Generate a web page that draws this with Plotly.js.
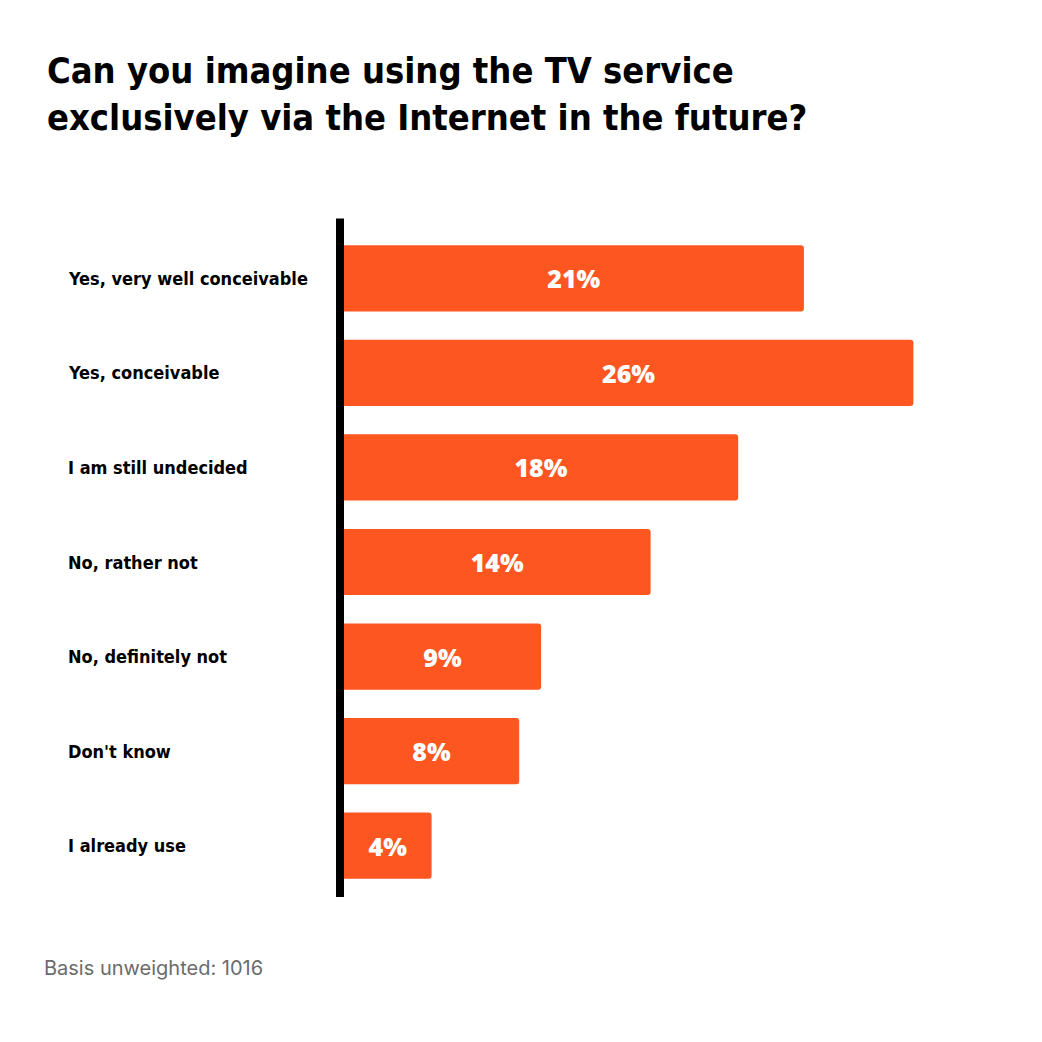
<!DOCTYPE html>
<html>
<head>
<meta charset="utf-8">
<script src="https://cdn.plot.ly/plotly-3.0.1.min.js"></script>
<style>html,body{margin:0;padding:0;background:#fff;}#chart{width:1042px;height:1042px;}</style>
</head>
<body>
<div id="chart"></div>
<script>
const categories = [
  "Yes, very well conceivable",
  "Yes, conceivable",
  "I am still undecided",
  "No, rather not",
  "No, definitely not",
  "Don't know",
  "I already use"
];
const values = [21, 26, 18, 14, 9, 8, 4];
const titleText = "Can you imagine using the TV service<br>exclusively via the Internet in the future?";
const footnote = "Basis unweighted: 1016";

const W = 1042, H = 1042;
const mL = 344, mR = 41, mT = 231, mB = 149;
const plotW = W - mL - mR;
const plotH = H - mT - mB;

const trace = {
  type: 'bar',
  orientation: 'h',
  y: categories,
  x: values,
  width: 0.7,
  marker: {color: '#FD5621', cornerradius: 3, line: {width: 0}},
  text: values.map(v => v + '%'),
  texttemplate: '%{text}',
  textposition: 'inside',
  insidetextanchor: 'middle',
  textangle: 0,
  insidetextfont: {family: 'Open Sans, sans-serif', size: 25, color: '#ffffff', weight: 800},
  hoverinfo: 'skip',
  cliponaxis: false
};

const labelAnnotations = categories.map(c => ({
  xref: 'paper', yref: 'y',
  x: (66 - mL) / plotW, y: c,
  xanchor: 'left', yanchor: 'middle',
  text: c, showarrow: false,
  font: {family: 'DejaVu Sans Condensed, DejaVu Sans, sans-serif', size: 18, color: '#000', weight: 700}
}));

const layout = {
  width: W, height: H,
  margin: {l: mL, r: mR, t: mT, b: mB},
  paper_bgcolor: '#ffffff',
  plot_bgcolor: '#ffffff',
  showlegend: false,
  bargap: 0.3,
  title: {
    text: titleText,
    x: 47 / W, xanchor: 'left', xref: 'container',
    y: 1 - 83 / H, yanchor: 'top', yref: 'container',
    font: {family: 'DejaVu Sans Condensed, DejaVu Sans, sans-serif', size: 36, color: '#000', weight: 700}
  },
  xaxis: {range: [0, 30], visible: false, fixedrange: true},
  yaxis: {
    type: 'category',
    autorange: false,
    range: [categories.length - 0.5, -0.5],
    showticklabels: false, showgrid: false, zeroline: false, showline: false, ticks: ''
  },
  shapes: [{
    type: 'line', xref: 'paper', yref: 'paper',
    x0: -4 / plotW, x1: -4 / plotW, y0: -0.006, y1: 1.019,
    line: {color: '#000000', width: 8}
  }],
  annotations: labelAnnotations.concat([{
    xref: 'paper', yref: 'paper',
    x: (42 - mL) / plotW, y: -(968 - (H - mB)) / plotH,
    xanchor: 'left', yanchor: 'middle',
    text: footnote, showarrow: false,
    font: {family: 'Inter, Noto Sans, sans-serif', size: 20, color: '#6b6b6b'}
  }])
};

Plotly.newPlot('chart', [trace], layout, {displayModeBar: false, staticPlot: true});
</script>
</body>
</html>
